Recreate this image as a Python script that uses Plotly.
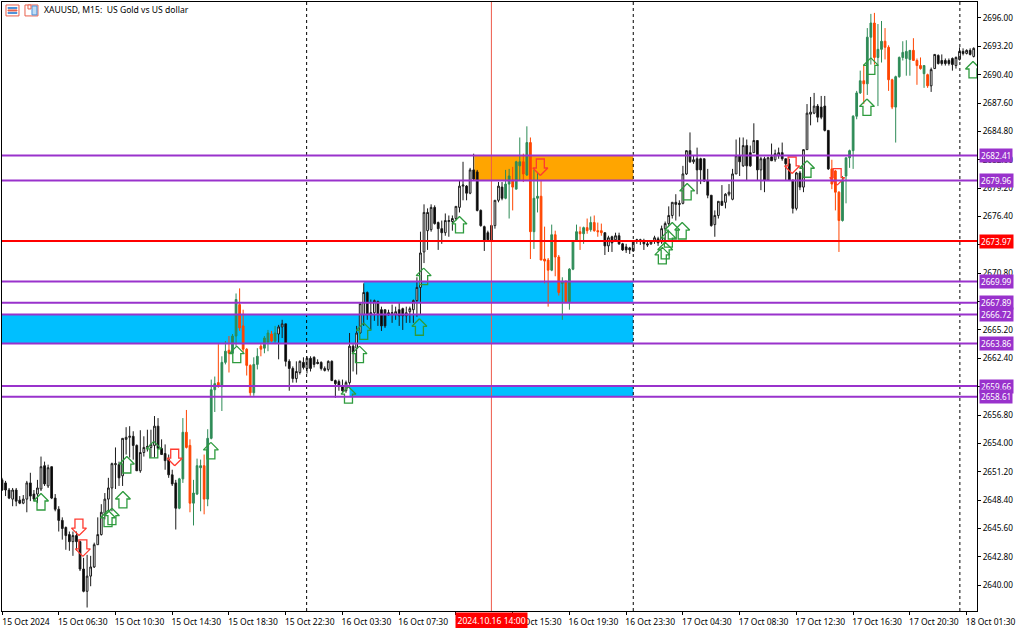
import plotly.graph_objects as go

opens = [
2650.4,2650.1,2649.4,2648.5,2649.4,2648.4,2648.1,2648.5,2650.1,2649,
2649,2649.5,2651.8,2649.8,2651.7,2648.6,2647.5,2646.4,2645.7,2645,
2644.3,2644.9,2644.3,2641.6,2639.4,2640.9,2641.8,2644,2645,2647.1,
2648.5,2649.6,2651.9,2651.9,2650.8,2654.4,2654.6,2654.7,2653.8,2651.3,
2653.1,2653.6,2653.6,2653.8,2655.7,2653.5,2653,2652.4,2650.9,2650.1,
2647.6,2650.5,2655.1,2653.8,2648.1,2649,2651.6,2651.8,2648.5,2654.5,
2659.3,2660,2659.6,2662,2663.2,2662.9,2664.6,2667.7,2665.6,2663.3,
2661.7,2659,2661.8,2663.6,2663.4,2664,2664.8,2664.1,2664.8,2665.5,
2665.8,2662.1,2661.4,2660.4,2661,2662,2661.4,2662.4,2662.5,2662,
2662,2661.2,2661.3,2662.1,2660.2,2660.1,2659.7,2659.2,2660,2663.6,
2663.4,2664.9,2666.7,2668.9,2666.9,2666.9,2668,2667.2,2667.2,2666.9,
2666.8,2666.7,2667.2,2667.3,2666.6,2667,2667.2,2668.1,2669.4,2672.9,
2675,2675.1,2677.3,2675.8,2675.2,2674.8,2675.9,2675.9,2676.2,2677.3,
2679.4,2679.4,2678.7,2681,2680.8,2677,2675.4,2674.8,2675.5,2675.5,
2678,2679.3,2678.2,2679.6,2680,2679.1,2681.4,2681.8,2680.5,2683.7,
2674.9,2678.2,2678.4,2672.2,2672.1,2671.1,2674.6,2672.4,2669.8,2670,
2668,2671.2,2674,2674.9,2674.7,2675.3,2675.1,2675.8,2675,2675,
2674.8,2673.5,2674.4,2674.1,2674.5,2673.7,2673.4,2673.3,2673,2674,
2674.1,2674,2673.7,2673.7,2674,2674.2,2673.9,2675.2,2675.7,2676.5,
2677.8,2677.7,2677.7,2680.6,2682.9,2681.8,2682.1,2682.1,2682.1,2679.9,
2678.5,2675.6,2676.5,2677.9,2677.8,2678.6,2678.1,2680.6,2682.4,2681.4,
2683.4,2682.7,2682.7,2683.9,2681,2682.1,2680,2682.3,2682,2682.4,
2682.7,2682.1,2681.6,2680,2677.2,2680.7,2679.3,2683,2686.5,2686.6,
2687.3,2687.2,2687.3,2684.9,2681.1,2680.9,2678.8,2676,2680.4,2682.2,
2682.9,2686.3,2688.6,2689.8,2689.5,2694.1,2695.5,2692.1,2692.9,2693.7,
2693.1,2689.9,2687.2,2690.2,2692.1,2692,2691.9,2692.8,2691.8,2691.3,
2690.5,2690.4,2689.3,2691,2692.3,2691.8,2691.8,2691.8,2692,2691.3,
2691.9,2692.7,2692.5,2692.8,2692.2,
]
highs = [
2650.6,2650.3,2649.6,2649.6,2649.6,2648.8,2648.9,2650.3,2651.1,2649.4,
2650.4,2652.7,2652.2,2651.9,2651.7,2649,2647.8,2646.7,2645.8,2645.3,
2645.3,2645.3,2644.4,2642.7,2643,2642.9,2644.2,2646.7,2648,2649.1,
2650.6,2652.1,2653.6,2652.2,2654.5,2655.6,2655.7,2655.2,2653.9,2655.3,
2654.7,2655.35,2655.35,2656.7,2656.5,2654.4,2653.9,2652.9,2651.4,2650.4,
2650.6,2656.5,2657.3,2654.4,2650.4,2652.5,2652.4,2652.9,2655.4,2660.3,
2660.6,2663.8,2662.6,2664.1,2664.6,2664.8,2668.8,2669.3,2667.2,2663.4,
2661.8,2662.5,2663.4,2663.8,2664.6,2665.2,2665.1,2665.6,2665.7,2666.2,
2665.8,2662.3,2661.6,2662.1,2662.2,2662.5,2662.6,2662.6,2662.6,2662.3,
2662.1,2661.6,2662.2,2662.2,2660.3,2660.3,2660.3,2660.2,2664.9,2663.8,
2665.6,2667.8,2669.8,2669,2668.2,2668.2,2668.1,2667.5,2667.2,2667.2,
2667.7,2667.5,2667.9,2667.4,2667.5,2667.5,2668.2,2670.4,2674.9,2677.6,
2677.2,2677.6,2677.5,2675.9,2676,2676.7,2676.5,2676.5,2677.4,2680,
2681.8,2679.5,2681.2,2682.6,2681,2677.1,2675.5,2675,2675.6,2678,
2679.8,2679.8,2681,2681.1,2681.3,2681.9,2684.2,2682.6,2685.3,2684.2,
2681,2680.8,2680,2675.4,2672.3,2675.6,2675,2672.6,2670.4,2670.1,
2671.3,2674,2675.6,2675.4,2675.4,2676.2,2676.4,2676.5,2675.8,2675.7,
2674.8,2674.5,2674.5,2674.8,2674.8,2673.8,2673.7,2673.4,2674,2674.2,
2674.2,2674.2,2674,2674,2674.5,2674.4,2675.5,2675.9,2677.4,2677.8,
2678.6,2678,2681.4,2682.9,2684.7,2682.4,2683.2,2682.2,2682.1,2681.1,
2678.5,2677,2677.9,2679.5,2678.7,2679.6,2681.1,2684,2684.2,2684.2,
2684,2683.4,2685.6,2683.9,2682.3,2682.3,2682.3,2683.6,2683,2683.2,
2683.7,2682.1,2682.1,2680,2680.8,2680.9,2683,2687.5,2688.2,2688.6,
2687.5,2688.3,2688.3,2684.9,2682,2681,2678.9,2680.4,2682.2,2683,
2686.4,2688.8,2690.8,2691.4,2695,2696.4,2696.5,2695.4,2695.7,2695,
2693.3,2690,2690.3,2692.2,2693.7,2693.8,2692.8,2694,2692,2692.1,
2691.3,2690.5,2691.1,2692.4,2692.4,2692.4,2692,2692,2692.1,2692.2,
2693.1,2693,2692.9,2693,2693.1,
]
lows = [
2649.3,2648.8,2648.5,2647.8,2647.8,2648,2648,2647.2,2648.3,2648.3,
2648.1,2649.3,2649.8,2649.6,2648.5,2647.3,2645.3,2644.5,2643.5,2643.4,
2642.9,2643.4,2641.4,2639.3,2637.8,2639.9,2641.7,2644,2644.9,2646.5,
2647.3,2647.3,2649.5,2649.8,2649.8,2652.9,2652.6,2652.4,2651.3,2651.1,
2652.7,2653.2,2652.6,2652.6,2653.4,2652.9,2651.4,2650.6,2649.8,2645.5,
2647.5,2650.1,2653.5,2647.2,2645.9,2648.9,2647.3,2647,2647.8,2654.4,
2657.1,2659.5,2657.2,2661.8,2661,2662.9,2663.6,2665.1,2663,2660.7,
2658.7,2658.7,2661.3,2662.6,2662.9,2663.1,2664,2663.8,2662.3,2664.4,
2661.6,2659.2,2660,2660,2660.8,2661.3,2660.9,2661.1,2661.5,2661.8,
2661.2,2661.1,2661.1,2660.2,2658.5,2659.2,2659.1,2659,2659.8,2661.1,
2660.8,2664.8,2665.6,2666.2,2665.2,2666.1,2665.6,2665.1,2665.4,2666.6,
2665.9,2666.2,2665.6,2665.2,2665.9,2665.9,2665.9,2666.5,2666.7,2671.8,
2673.1,2674.9,2675.6,2673.1,2673.7,2674.5,2674.4,2675,2676,2676.8,
2678,2678,2678.6,2680,2676.9,2675.4,2673,2673.9,2673.9,2675.2,
2677.8,2678,2678.1,2676.2,2677,2679.1,2680,2679.8,2680.4,2672.2,
2673.2,2676.8,2672.1,2669.8,2667.5,2671,2670.5,2668.6,2666.2,2668,
2667.2,2671.1,2673.9,2673.1,2673.7,2674.7,2674.9,2674.9,2674.4,2674.5,
2672.6,2672.9,2672.9,2673.9,2673.6,2673,2672.8,2672.7,2672.9,2673.7,
2673.6,2673.1,2673.4,2673.6,2673.7,2673.5,2673.7,2674,2675.5,2676.2,
2676,2676.4,2677.6,2680.5,2681.7,2681.6,2678.6,2679.6,2679.8,2678.2,
2675.4,2674.4,2676.2,2677.5,2677.2,2678.4,2678,2680.6,2680.4,2681.3,
2680,2681.3,2682.7,2680,2679,2678.8,2679.9,2681.9,2681.8,2682.1,
2681.9,2680,2679.9,2676.7,2677,2679,2678.8,2683,2685.4,2686.5,
2685.7,2686,2684.8,2681,2679.1,2677,2672.9,2675.9,2677.7,2681.2,
2681.1,2686,2688.5,2687.5,2688.4,2691.4,2691.4,2687.3,2691.6,2691.9,
2688.8,2687,2683.7,2690.1,2691.8,2690.3,2690.3,2691.8,2689.4,2690.9,
2689.1,2689.1,2688.7,2691,2691.4,2691.3,2691.3,2691.3,2690.8,2691,
2691.8,2692.3,2692.4,2692.3,2692.1,
]
closes = [
2649.4,2649.4,2648.6,2649.4,2648.3,2648.1,2648.5,2650.1,2648.8,2648.5,
2649.6,2651.7,2650,2651.6,2648.6,2647.5,2646.4,2645.6,2644.9,2644.3,
2644.9,2644.3,2641.6,2639.4,2640.9,2641.8,2644,2645,2647.2,2648.5,
2649.6,2652,2652,2650.6,2654.5,2654.6,2654.7,2653.8,2651.3,2653.1,
2653.6,2653.7,2653.9,2655.7,2653.5,2652.9,2652.3,2650.9,2650,2647.6,
2650.5,2655.1,2653.6,2648.1,2649.1,2651.8,2651.8,2648.5,2654.5,2659.3,
2659.9,2659.7,2662,2663.1,2662.9,2664.6,2668.2,2665.4,2663.3,2661.7,
2659,2661.8,2662.6,2663.3,2664.4,2664.9,2664.1,2664.9,2665.5,2665.8,
2662.1,2661.4,2660.4,2661.1,2662.1,2661.5,2662.4,2661.4,2661.8,2661.9,
2661.4,2661.4,2662.1,2660.2,2659.9,2659.7,2659.2,2660,2663.6,2663,
2664.9,2667.8,2668.9,2666.7,2666.7,2668.1,2666.7,2665.6,2665.6,2666.7,
2666.9,2667,2666.6,2666.6,2666.9,2667.3,2668.1,2669.4,2672.8,2676.8,
2676.8,2677.3,2675.7,2675.2,2674.8,2676,2676,2676.2,2677.4,2679.4,
2679.5,2678.7,2681,2680.1,2677,2675.5,2674,2674.1,2674,2678,
2679.4,2678.2,2679.6,2680.4,2679.3,2681.8,2681.8,2680.6,2683.7,2674.9,
2678.2,2678.4,2672.1,2672,2671.1,2674.6,2672.4,2668.9,2670,2668,
2671.2,2674,2674.9,2674.7,2675.3,2675,2675.8,2675,2674.9,2674.8,
2673.5,2674.3,2673.8,2674.5,2673.7,2673.1,2673.1,2673.1,2674,2674.1,
2674,2673.7,2673.6,2673.9,2674.3,2673.8,2675.2,2675.7,2676.5,2677.8,
2677.6,2677.6,2680.6,2682.9,2681.8,2682,2681,2681,2679.9,2678.5,
2675.5,2676.5,2677.9,2677.5,2678.6,2678.8,2680.6,2682.4,2681.8,2683.4,
2681.4,2681.4,2683.9,2681,2682.1,2680,2682.2,2681.9,2682.6,2682.7,
2682.1,2681.6,2680,2677.2,2680.7,2679.3,2683,2686.6,2686.7,2687.3,
2686.2,2686.2,2684.9,2681.1,2679.6,2678.8,2676,2680,2682.2,2682.9,
2686.3,2688.6,2689.8,2689.5,2694.1,2695.5,2692.1,2692.9,2693.7,2693.1,
2689.9,2687.2,2690.2,2692.1,2692.6,2692.7,2692.8,2691.8,2691.3,2691,
2691.3,2689.3,2690.9,2692.4,2691.5,2691.5,2691.5,2691.5,2691.4,2692.1,
2692.7,2692.5,2692.8,2692.4,2693,
]
session_bars = [(50, 77), (142, 169), (234, 261)]

tick_bars = [0, 16, 32, 48, 64, 80, 96, 112, 128, 144, 160, 176, 192, 208, 224, 240, 256, 272]
tick_labels = ["15 Oct 2024", "15 Oct 06:30", "15 Oct 10:30", "15 Oct 14:30", "15 Oct 18:30",
               "15 Oct 22:30", "16 Oct 03:30", "16 Oct 07:30", "16 Oct 11:30", "16 Oct 15:30",
               "16 Oct 19:30", "16 Oct 23:30", "17 Oct 04:30", "17 Oct 08:30", "17 Oct 12:30",
               "17 Oct 16:30", "17 Oct 20:30", "18 Oct 01:30"]
price_ticks = [2640.0, 2642.8, 2645.6, 2648.4, 2651.2, 2654.0, 2656.8, 2659.6, 2662.4, 2665.2, 2668.0,
               2670.8, 2673.6, 2676.4, 2679.2, 2682.0, 2684.8, 2687.6, 2690.4, 2693.2, 2696.0]

purple_levels = [2682.41, 2679.96, 2669.99, 2667.89, 2666.72, 2663.86, 2659.66, 2658.61]
red_level = 2673.97
# zones: first bar, last bar, upper price, lower price, colour
zone_start = [133.2, 0, 102.0, 98.0]
zone_end = [178, 178, 178, 178]
zone_top = [2682.41, 2666.72, 2669.99, 2659.66]
zone_bottom = [2679.96, 2663.86, 2667.89, 2658.61]
zone_color = ["#FFA500", "#00BFFF", "#00BFFF", "#00BFFF"]
day_lines = [85.9, 178, 270.1]
cursor_bar = 138

up_x = [11, 29.9, 31, 34.1, 35.2, 42.8, 58.9, 66.2, 100.8, 102, 117.7, 97.7, 118.9, 129,
        193.2, 191.8, 189, 187.9, 187, 186.2, 227, 245, 243.9, 273.8]
up_y = [2649.05, 2647.4, 2647.6, 2649.25, 2652.7, 2654.2, 2654.1, 2663.6, 2663.6, 2665.9, 2666.3, 2659.6,
        2671.3, 2676.4, 2679.66, 2675.8, 2675.8, 2675, 2673.85, 2673.35, 2681.9, 2692.06, 2688, 2691.7]
down_x = [21.7, 22.8, 48.7, 151.8, 222.8, 235.5]
down_y = [2644.9, 2642.85, 2651.8, 2680.45, 2680.65, 2679.5]

# ---- geometry of the picture
W, H = 1024, 628
L, R, T, B = 1, 47, 1, 15
BAR_PX = 3.55
PRICE_PX = 10.16
X_RANGE = [0, (W - L - R) / BAR_PX]
Y_TOP = 2696.0 + 16 / PRICE_PX
Y_BOT = Y_TOP - 60.12
FONT = "Noto Sans"

idx = list(range(len(opens)))
in_session = [any(a <= i <= b for a, b in session_bars) for i in idx]


def subset(seq, flag):
    return [v for v, s in zip(seq, in_session) if s == flag]


def candle(flag, up_line, up_fill, dn_line, dn_fill):
    return go.Candlestick(
        x=subset(idx, flag), open=subset(opens, flag), high=subset(highs, flag),
        low=subset(lows, flag), close=subset(closes, flag),
        whiskerwidth=0, showlegend=False,
        increasing=dict(line=dict(color=up_line, width=1), fillcolor=up_fill),
        decreasing=dict(line=dict(color=dn_line, width=1), fillcolor=dn_fill),
    )


def arrow_outline(xs, ys, s):
    """Block-arrow outlines in data units; s=+1 points up with its tip at y, s=-1 points down."""
    hx, sx = 7.5 / BAR_PX, 4 / BAR_PX
    hy, ty = 7.5 / PRICE_PX, 16.5 / PRICE_PX
    px, py = [], []
    for x, y in zip(xs, ys):
        px += [x, x + hx, x + sx, x + sx, x - sx, x - sx, x - hx, x, None]
        py += [y, y - s * hy, y - s * hy, y - s * ty, y - s * ty, y - s * hy, y - s * hy, y, None]
    return px, py


fig = go.Figure()
fig.add_trace(candle(False, "#1a1a1a", "#ffffff", "#1a1a1a", "#000000"))
fig.add_trace(candle(True, "#2E8B57", "#2E8B57", "#FF4500", "#FF4500"))

ux, uy = arrow_outline(up_x, up_y, 1)
fig.add_trace(go.Scatter(x=ux, y=uy, mode="lines", line=dict(color="#2E9B3E", width=1.3),
                         showlegend=False, hoverinfo="skip"))
dx, dy = arrow_outline(down_x, down_y, -1)
fig.add_trace(go.Scatter(x=dx, y=dy, mode="lines", line=dict(color="#FF3B30", width=1.3),
                         showlegend=False, hoverinfo="skip"))

shapes = []
for a, b, t, bt, c in zip(zone_start, zone_end, zone_top, zone_bottom, zone_color):
    shapes.append(dict(type="rect", x0=a, x1=b, y0=bt, y1=t, fillcolor=c, line=dict(width=0), layer="below"))
for d in day_lines:
    shapes.append(dict(type="line", x0=d, x1=d, yref="paper", y0=0, y1=1,
                       line=dict(color="#000000", width=1, dash="3px,3px"), layer="above"))
shapes.append(dict(type="line", x0=cursor_bar, x1=cursor_bar, yref="paper", y0=0, y1=1,
                   line=dict(color="#EE5A4A", width=1), layer="above"))
for lv in purple_levels:
    shapes.append(dict(type="line", xref="paper", x0=0, x1=1, y0=lv, y1=lv,
                       line=dict(color="#9932CC", width=2), layer="above"))
shapes.append(dict(type="line", xref="paper", x0=0, x1=1, y0=red_level, y1=red_level,
                   line=dict(color="#FF0000", width=2), layer="above"))


def px_x(p):
    return (p - L) / (W - L - R)


def px_y(p):
    return 1 - (p - T) / (H - T - B)


# toolbar icons next to the chart caption
for x0, x1, y0, y1, col, fill in [
    (5, 18, 4, 15, "#E8604C", "#ffffff"), (7, 16, 6.5, 7.5, "#4A90D9", "#4A90D9"),
    (7, 16, 9, 10, "#E8604C", "#E8604C"), (7, 16, 11.5, 12.5, "#4A90D9", "#4A90D9"),
    (24, 37, 4, 15, "#E8604C", "#ffffff"),
    (31, 36, 5, 14, "#4A90D9", "#BFDDF5"), (27, 30, 4, 8, "#E8604C", "#ffffff"),
]:
    shapes.append(dict(type="rect", xref="paper", yref="paper", x0=px_x(x0), x1=px_x(x1),
                       y0=px_y(y1), y1=px_y(y0), line=dict(color=col, width=1), fillcolor=fill, layer="above"))

annotations = [dict(xref="paper", yref="paper", x=px_x(41), y=px_y(9.5), xanchor="left", yanchor="middle",
                    text="XAUUSD, M15:  US Gold vs US dollar", showarrow=False,
                    font=dict(family=FONT, size=8.6, color="#000000"))]
for lv in purple_levels + [red_level]:
    is_red = lv == red_level
    annotations.append(dict(xref="paper", x=1, xshift=2, xanchor="left", y=lv, yanchor="middle",
                            text=f"{lv:.2f}", showarrow=False, bgcolor="#FF0000" if is_red else "#9932CC",
                            borderpad=1, font=dict(family=FONT, size=8.2, color="#ffffff")))
annotations.append(dict(x=cursor_bar, yref="paper", y=0, yanchor="top", yshift=-1, xanchor="center", xshift=0,
                        text="2024.10.16 14:00", showarrow=False, bgcolor="#FF0000", borderpad=1.5,
                        font=dict(family=FONT, size=8.6, color="#ffffff")))

fig.update_layout(
    width=W, height=H, margin=dict(l=L, r=R, t=T, b=B), autosize=False,
    paper_bgcolor="#ffffff", plot_bgcolor="#ffffff", showlegend=False,
    shapes=shapes, annotations=annotations,
    font=dict(family=FONT, size=8.6, color="#000000"),
    xaxis=dict(type="linear", range=X_RANGE, rangeslider=dict(visible=False), showgrid=False, zeroline=False,
               showline=True, linecolor="#000000", linewidth=1, mirror=True, ticks="outside", ticklen=3,
               tickcolor="#000000", tickvals=tick_bars, ticktext=tick_labels, ticklabelshift=24,
               ticklabelstandoff=0, tickangle=0, tickfont=dict(family=FONT, size=8.5)),
    yaxis=dict(range=[Y_BOT, Y_TOP], side="right", showgrid=False, zeroline=False, showline=True,
               linecolor="#000000", linewidth=1, mirror=True, ticks="outside", ticklen=3, tickcolor="#000000",
               tickvals=price_ticks, ticktext=[f"{p:.2f}" for p in price_ticks],
               tickfont=dict(family=FONT, size=8.2)),
)

fig.write_html("out.html", post_script="document.body.style.margin='0';", config={"displayModeBar": False})
